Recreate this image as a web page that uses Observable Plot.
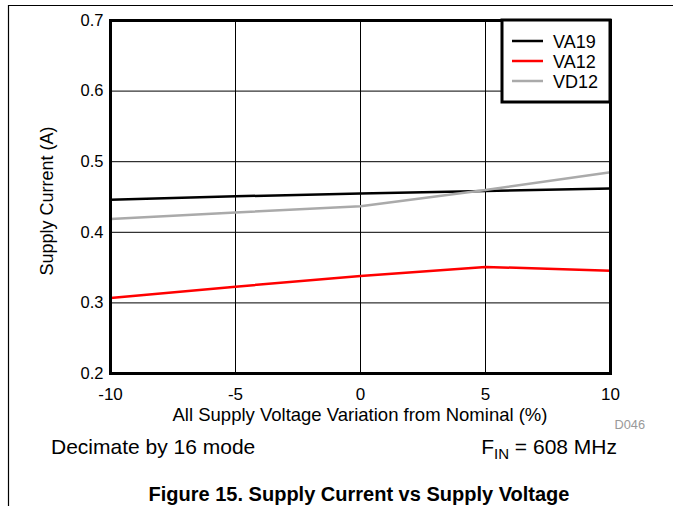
<!DOCTYPE html>
<html>
<head>
<meta charset="utf-8">
<script src="https://cdn.jsdelivr.net/npm/d3@7"></script>
<script src="https://cdn.jsdelivr.net/npm/@observablehq/plot@0.6"></script>
<style>
  html, body { margin: 0; padding: 0; background: #fff; }
  #wrap { position: relative; width: 673px; height: 506px; overflow: hidden; font-family: "Liberation Sans", Arial, sans-serif; color: #000; }
  #wrap svg { position: absolute; left: 0; top: 0; }
</style>
</head>
<body>
<div id="wrap"></div>
<script>
// Data
const variation = [-10, -5, 0, 5, 10];
const va19 = [0.446, 0.451, 0.455, 0.4585, 0.462];
const va12 = [0.307, 0.323, 0.338, 0.351, 0.3455];
const vd12 = [0.419, 0.428, 0.437, 0.460, 0.485];
const seriesNames = ["VA19", "VA12", "VD12"];
const seriesColors = ["#000000", "#ff0000", "#aaaaaa"];
const xTicks = [-10, -5, 0, 5, 10];
const yTicks = [0.2, 0.3, 0.4, 0.5, 0.6, 0.7];

const rows = [];
[va19, va12, vd12].forEach((arr, si) => {
  arr.forEach((v, i) => rows.push({series: seriesNames[si], x: variation[i], y: v}));
});

const W = 673, H = 506;
const mL = 110, mR = 63, mT = 20, mB = 133;
const FF = "'Liberation Sans', Arial, sans-serif";

const chart = Plot.plot({
  width: W, height: H,
  marginLeft: mL, marginRight: mR, marginTop: mT, marginBottom: mB,
  style: {fontFamily: FF, color: "#000", background: "transparent"},
  x: {domain: [-10, 10], label: null},
  y: {domain: [0.2, 0.7], label: null},
  color: {domain: seriesNames, range: seriesColors},
  marks: [
    Plot.ruleX(xTicks, {stroke: "#000", strokeWidth: 1}),
    Plot.ruleY(yTicks, {stroke: "#000", strokeWidth: 1}),
    Plot.line(rows, {x: "x", y: "y", z: "series", stroke: "series", strokeWidth: 2.5}),
    Plot.frame({stroke: "#000", strokeWidth: 3}),
    Plot.axisX({ticks: xTicks, tickSize: 0, tickPadding: 14, fontSize: 17, tickFormat: d => String(d), label: null}),
    Plot.axisY({ticks: yTicks, tickSize: 0, tickPadding: 7, fontSize: 16.5, tickFormat: d => d.toFixed(1), label: null})
  ]
});

const wrap = document.getElementById("wrap");
wrap.appendChild(chart);

const svg = d3.select(chart);
function txt(x, y, s, size, anchor) {
  const t = svg.append("text").attr("x", x).attr("y", y)
    .style("font-size", size + "px").style("font-family", FF)
    .style("text-anchor", anchor || "start").style("fill", "#000");
  if (s != null) t.text(s);
  return t;
}

// Legend (top-right inside plot)
const lg = svg.append("g");
lg.append("rect").attr("x", 502).attr("y", 20).attr("width", 108).attr("height", 82)
  .attr("fill", "#fff").attr("stroke", "#000").attr("stroke-width", 3);
const rowY = [41, 61, 81];
seriesNames.forEach((n, i) => {
  lg.append("line").attr("x1", 512).attr("x2", 543).attr("y1", rowY[i]).attr("y2", rowY[i])
    .attr("stroke", seriesColors[i]).attr("stroke-width", 2.5);
  txt(553, rowY[i] + 6.5, n, 18, "start");
});

// Outer figure border (top and left)
svg.append("line").attr("x1", 8).attr("x2", W).attr("y1", 5.5).attr("y2", 5.5).attr("stroke", "#000").attr("stroke-width", 1.2);
svg.append("line").attr("x1", 8.5).attr("x2", 8.5).attr("y1", 5).attr("y2", H).attr("stroke", "#000").attr("stroke-width", 1.2);

// Y label
txt(0, 0, "Supply Current (A)", 18, "middle").attr("transform", "translate(53,201) rotate(-90)");
// X label
txt(360, 421, "All Supply Voltage Variation from Nominal (%)", 18.5, "middle");
// D046
txt(645, 429, "D046", 12.8, "end").style("fill", "#999");
// Conditions
txt(51, 454, "Decimate by 16 mode", 21, "start");
const f = txt(617, 454, null, 21, "end");
f.append("tspan").text("F");
f.append("tspan").style("font-size", "15px").attr("dy", 5).text("IN");
f.append("tspan").attr("dy", -5).text(" = 608 MHz");
// Title
txt(359, 501, "Figure 15. Supply Current vs Supply Voltage", 20, "middle").style("font-weight", "bold");
</script>
</body>
</html>
